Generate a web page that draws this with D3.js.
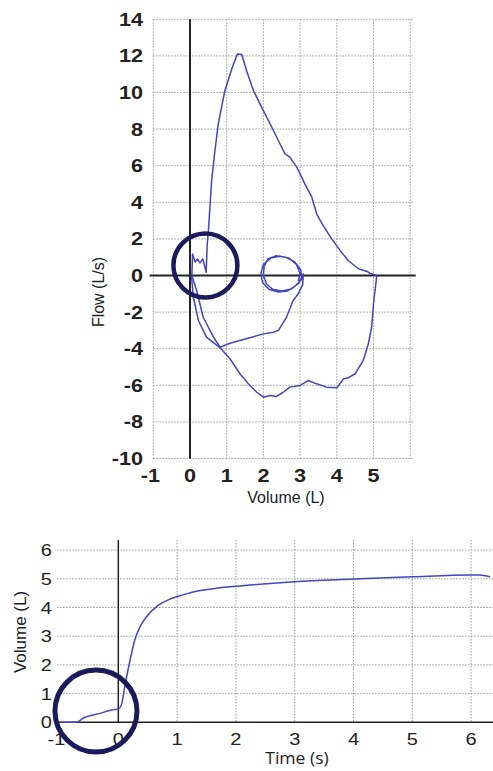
<!DOCTYPE html>
<html>
<head>
<meta charset="utf-8">
<script src="https://cdn.jsdelivr.net/npm/d3@7"></script>
<style>
  body { margin: 0; background: #fff; }
  svg { display: block; }
</style>
</head>
<body>
<div id="chart"></div>
<script>
// Data (flow-volume loop)
const fvExpiration = [
  [0.05, 0.0], [0.07, 1.18], [0.14, 0.73], [0.2, 0.91], [0.27, 0.69], [0.35, 0.91], [0.44, 0.18],
  [0.47, 1.73], [0.5, 2.4], [0.59, 5.19], [0.68, 6.83], [0.77, 8.29], [0.95, 10.1], [1.14, 11.3],
  [1.29, 12.11], [1.41, 12.08], [1.54, 11.2], [1.73, 10.1], [1.95, 9.2], [2.23, 8.1], [2.45, 7.2],
  [2.59, 6.65], [2.72, 6.47], [2.91, 5.92], [3.13, 5.01], [3.32, 4.28], [3.45, 3.37], [3.63, 2.73],
  [3.86, 2.0], [4.09, 1.37], [4.31, 0.82], [4.59, 0.37], [4.83, 0.22], [4.9, 0.12], [5.09, 0.0]
]
const fvForcedInspiration = [
  [5.09, 0.0], [5.0, -1.55], [4.95, -2.82], [4.86, -3.73], [4.72, -4.64], [4.5, -5.37], [4.31, -5.59],
  [4.18, -5.65], [4.0, -6.14], [3.72, -6.1], [3.45, -5.92], [3.22, -5.74], [3.0, -6.01], [2.72, -6.1],
  [2.54, -6.38], [2.36, -6.61], [2.18, -6.56], [2.0, -6.65], [1.82, -6.38], [1.63, -6.01], [1.36, -5.37],
  [1.09, -4.55], [0.82, -3.95], [0.45, -3.37], [0.23, -2.46], [0.09, -1.19], [0.04, 0.0]
]
const fvTidal = [
  [2.95, -0.3], [3.0, 0.1], [2.9, 0.6], [2.7, 0.95], [2.45, 1.05], [2.2, 0.95], [2.0, 0.6], [1.93, 0.1],
  [1.98, -0.4], [2.15, -0.75], [2.4, -0.9], [2.65, -0.85], [2.85, -0.6], [3.05, -0.2], [3.02, 0.3],
  [2.85, 0.75], [2.6, 1.0], [2.35, 1.08], [2.12, 0.9], [2.02, 0.5], [2.0, 0.0], [2.08, -0.45],
  [2.25, -0.75], [2.5, -0.85], [2.75, -0.75], [2.95, -0.45], [3.09, 0.09], [3.07, -0.5],
  [2.95, -1.0], [2.81, -1.37], [2.63, -2.28], [2.41, -3.0], [2.27, -3.1], [2.0, -3.19], [1.68, -3.37],
  [1.36, -3.55], [1.09, -3.7], [0.82, -3.92], [0.64, -3.37], [0.36, -2.28], [0.18, -0.82], [0.05, 0.0]
]
const fvXTicks = [-1, 0, 1, 2, 3, 4, 5]
const fvYTicks = [-10, -8, -6, -4, -2, 0, 2, 4, 6, 8, 10, 12, 14]

// Data (volume-time curve)
const vtCurve = [
  [-1, 0], [-0.71, 0], [-0.6, 0.14], [-0.31, 0.31], [-0.11, 0.43], [0.0, 0.46], [0.06, 0.66],
  [0.11, 1.24], [0.2, 2.17], [0.28, 2.87], [0.37, 3.33], [0.48, 3.68], [0.65, 4.03], [0.88, 4.29],
  [1.1, 4.44], [1.39, 4.59], [1.67, 4.67], [2.07, 4.75], [2.24, 4.78], [3.0, 4.9], [4.0, 4.99],
  [5.0, 5.07], [6.0, 5.13], [6.15, 5.13], [6.32, 5.07]
]
const vtXTicks = [-1, 0, 1, 2, 3, 4, 5, 6]
const vtYTicks = [0, 1, 2, 3, 4, 5, 6]

// annotation circles: centre in data units, radius in px
const fvCircle = {x: 0.42, y: 0.55, r: 32}
const vtCircle = {x: -0.38, y: 0.39, r: 41}

const curveColor = '#4545c4'
const circleColor = '#1b1b5c'
const gridColor = '#9a9a9a'

const svg = d3.select('#chart')
  .append('svg')
  .attr('width', 493)
  .attr('height', 771)

// the source picture is a bit stretched sideways, so the tick labels are too
function stretchedLabel(d, x, y, sx) {
  return `translate(${x},${y}) scale(${sx},1)`
}

// ---------- top chart: flow vs volume ----------
const xFV = d3.scaleLinear().domain([-1, 6]).range([153.3, 410.2])
const yFV = d3.scaleLinear().domain([-10, 14]).range([458.5, 19.3])

const fvGroup = svg.append('g')

// grid
fvGroup.selectAll('.vgrid')
   .data(d3.range(-1, 7))
   .join('line')
   .attr('x1', d => xFV(d)).attr('x2', d => xFV(d))
   .attr('y1', yFV(14)).attr('y2', yFV(-10))
   .attr('stroke', gridColor).attr('stroke-width', 1).attr('stroke-dasharray', '1.5,1.5')
fvGroup.selectAll('.hgrid')
   .data(fvYTicks)
   .join('line')
   .attr('x1', xFV(-1)).attr('x2', xFV(6.1))
   .attr('y1', d => yFV(d)).attr('y2', d => yFV(d))
   .attr('stroke', gridColor).attr('stroke-width', 1).attr('stroke-dasharray', '1.5,1.5')

// zero axes
fvGroup.append('line')
   .attr('x1', xFV(0)).attr('x2', xFV(0))
   .attr('y1', yFV(14)).attr('y2', yFV(-10))
   .attr('stroke', '#222').attr('stroke-width', 2)
fvGroup.append('line')
   .attr('x1', xFV(-1.1)).attr('x2', xFV(6.15))
   .attr('y1', yFV(0)).attr('y2', yFV(0))
   .attr('stroke', '#222').attr('stroke-width', 2)

// tick labels
fvGroup.selectAll('.ylab')
   .data(fvYTicks)
   .join('text')
   .attr('transform', d => stretchedLabel(d, 143, yFV(d) + 6.5, 1.2))
   .attr('text-anchor', 'end')
   .attr('font-family', 'Liberation Sans, Arial, sans-serif')
   .attr('font-size', '18px')
   .attr('font-weight', 'bold')
   .attr('fill', '#222')
   .text(d => d)
fvGroup.selectAll('.xlab')
   .data(fvXTicks)
   .join('text')
   .attr('transform', d => stretchedLabel(d, xFV(d) + (d < 0 ? -3 : 0), 482, 1.2))
   .attr('text-anchor', 'middle')
   .attr('font-family', 'Liberation Sans, Arial, sans-serif')
   .attr('font-size', '18px')
   .attr('font-weight', 'bold')
   .attr('fill', '#222')
   .text(d => d)

// axis titles
fvGroup.append('text')
   .attr('x', 286)
   .attr('y', 503)
   .attr('text-anchor', 'middle')
   .attr('font-family', 'Liberation Sans, Arial, sans-serif')
   .attr('font-size', '16px')
   .attr('fill', '#222')
   .text('Volume (L)')
fvGroup.append('text')
   .attr('transform', 'translate(104,292) rotate(-90)')
   .attr('text-anchor', 'middle')
   .attr('font-family', 'Liberation Sans, Arial, sans-serif')
   .attr('font-size', '16px')
   .attr('fill', '#222')
   .text('Flow (L/s)')

const lineFV = d3.line().x(d => xFV(d[0])).y(d => yFV(d[1])).curve(d3.curveLinear)
fvGroup.selectAll('.fv')
   .data([fvTidal, fvExpiration, fvForcedInspiration])
   .join('path')
   .attr('d', lineFV)
   .attr('fill', 'none')
   .attr('stroke', curveColor)
   .attr('stroke-width', 1.5)
   .attr('stroke-linejoin', 'round')

fvGroup.append('circle')
   .attr('cx', xFV(fvCircle.x))
   .attr('cy', yFV(fvCircle.y))
   .attr('r', fvCircle.r)
   .attr('fill', 'none')
   .attr('stroke', circleColor)
   .attr('stroke-width', 4.5)

// ---------- bottom chart: volume vs time ----------
const xVT = d3.scaleLinear().domain([-1, 6]).range([59.5, 471.1])
const yVT = d3.scaleLinear().domain([0, 6]).range([722.3, 550.1])

const vtGroup = svg.append('g')

vtGroup.selectAll('.vgrid')
   .data(vtXTicks.filter(d => d > 0))
   .join('line')
   .attr('x1', d => xVT(d)).attr('x2', d => xVT(d))
   .attr('y1', yVT(6.35)).attr('y2', yVT(0))
   .attr('stroke', gridColor).attr('stroke-width', 1).attr('stroke-dasharray', '1.5,1.5')
vtGroup.selectAll('.hgrid')
   .data(vtYTicks.filter(d => d > 0))
   .join('line')
   .attr('x1', xVT(-1.04)).attr('x2', 493)
   .attr('y1', d => yVT(d)).attr('y2', d => yVT(d))
   .attr('stroke', gridColor).attr('stroke-width', 1).attr('stroke-dasharray', '1.5,1.5')

vtGroup.append('line')
   .attr('x1', xVT(0)).attr('x2', xVT(0))
   .attr('y1', yVT(6.35)).attr('y2', yVT(0))
   .attr('stroke', '#222').attr('stroke-width', 1.5)
vtGroup.append('line')
   .attr('x1', xVT(-1.04)).attr('x2', 493)
   .attr('y1', yVT(0)).attr('y2', yVT(0))
   .attr('stroke', '#222').attr('stroke-width', 1.5)

vtGroup.selectAll('.ylab')
   .data(vtYTicks)
   .join('text')
   .attr('transform', d => stretchedLabel(d, 52, yVT(d) + 6, 1.25))
   .attr('text-anchor', 'end')
   .attr('font-family', 'Liberation Sans, Arial, sans-serif')
   .attr('font-size', '16px')
   .attr('fill', '#222')
   .text(d => d)
vtGroup.selectAll('.xlab')
   .data(vtXTicks)
   .join('text')
   .attr('transform', d => stretchedLabel(d, xVT(d) + (d < 0 ? -3 : 0), 745, 1.25))
   .attr('text-anchor', 'middle')
   .attr('font-family', 'Liberation Sans, Arial, sans-serif')
   .attr('font-size', '16px')
   .attr('fill', '#222')
   .text(d => d)

vtGroup.append('text')
   .attr('transform', 'translate(297,764) scale(1.1,1)')
   .attr('text-anchor', 'middle')
   .attr('font-family', 'Open Sans, sans-serif')
   .attr('font-size', '16px')
   .attr('fill', '#222')
   .text('Time (s)')
vtGroup.append('text')
   .attr('transform', 'translate(26,632) rotate(-90)')
   .attr('text-anchor', 'middle')
   .attr('font-family', 'Liberation Sans, Arial, sans-serif')
   .attr('font-size', '17px')
   .attr('fill', '#222')
   .text('Volume (L)')

const lineVT = d3.line().x(d => xVT(d[0])).y(d => yVT(d[1])).curve(d3.curveMonotoneX)
vtGroup.append('path')
   .datum(vtCurve)
   .attr('d', lineVT)
   .attr('fill', 'none')
   .attr('stroke', curveColor)
   .attr('stroke-width', 1.5)

vtGroup.append('circle')
   .attr('cx', xVT(vtCircle.x))
   .attr('cy', yVT(vtCircle.y))
   .attr('r', vtCircle.r)
   .attr('fill', 'none')
   .attr('stroke', circleColor)
   .attr('stroke-width', 5)
</script>
</body>
</html>
